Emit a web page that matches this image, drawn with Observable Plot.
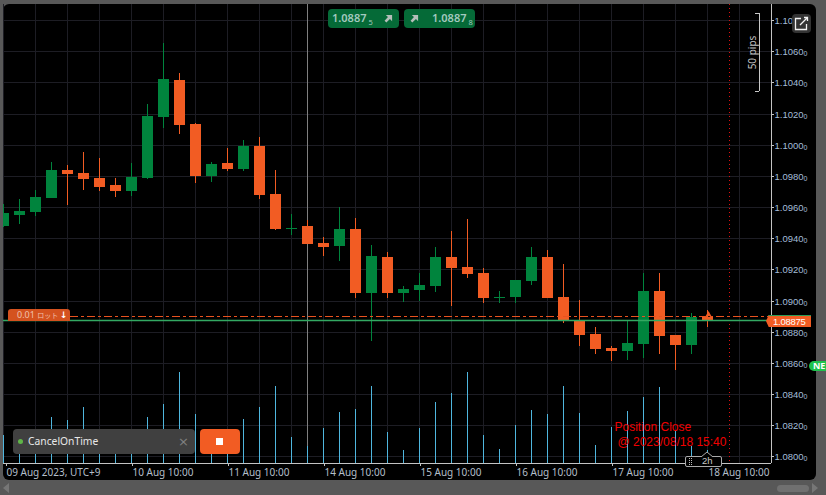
<!DOCTYPE html>
<html><head><meta charset="utf-8">
<script src="https://cdn.jsdelivr.net/npm/d3@7"></script>
<script src="https://cdn.jsdelivr.net/npm/@observablehq/plot@0.6"></script>
<style>
html,body{margin:0;padding:0;width:826px;height:495px;overflow:hidden;background:#585858;font-family:"Noto Sans","Open Sans",sans-serif}
#stage{position:absolute;left:3px;top:4px;width:813px;height:476px;background:#000;border-radius:6px}
#chart{position:absolute;left:0;top:0}
#chart svg{background:transparent;display:block}
.w{position:absolute;box-sizing:border-box;white-space:nowrap}
.quote{top:9px;width:71px;height:19px;background:#056a37;border-radius:4px;color:#a3c9bf;font-size:11px;font-weight:600;line-height:18px}
.quote sub{font-size:7.5px;font-weight:400;vertical-align:-3px;line-height:0;margin-left:2px}
.quote svg{position:absolute;top:5px}
</style></head><body>
<div id="stage"></div><div id="chart"></div>

<div class="w quote" style="left:328px"><span style="position:absolute;left:4px">1.0887<sub>5</sub></span>
<svg width="9" height="9" viewBox="0 0 10 10" style="left:56px"><path d="M2 1H9V8L6.6 5.6 2.6 9.4 .6 7.4 4.4 3.4Z" fill="#b4beb9"/></svg></div>
<div class="w quote" style="left:404px"><svg width="9" height="9" viewBox="0 0 10 10" style="left:6px"><path d="M2 1H9V8L6.6 5.6 2.6 9.4 .6 7.4 4.4 3.4Z" fill="#b4beb9"/></svg>
<span style="position:absolute;left:28px">1.0887<sub>8</sub></span></div>

<div class="w" style="left:792px;top:14px;width:19px;height:19px;background:#333;border-radius:4px">
<svg width="19" height="19" viewBox="0 0 19 19"><path d="M9 4.5H3.5V15.5H14.5V10" fill="none" stroke="#f2f2f2" stroke-width="1.3"/><path d="M8 11L15 4M12 3.5H15.5V7" fill="none" stroke="#f2f2f2" stroke-width="1.3"/></svg></div>

<div class="w" style="left:8px;top:309px;width:62px;height:12px;background:#d4521f;border-radius:3px 3px 0 0;color:#f0c0ac;font:400 9px/12px 'Noto Sans',sans-serif;padding-left:9px;overflow:hidden">0.01 <span style="font:400 7px/12px 'Noto Sans CJK JP',sans-serif">ロット</span><span style="position:absolute;left:52px;top:0;color:#fff;font:700 9px/12px 'DejaVu Sans'">↓</span></div>

<div class="w" style="left:766px;top:315px;width:45px;height:12px;background:#f25c23;border-top:1px solid #2b9c56;clip-path:polygon(6% 0,100% 0,100% 100%,6% 100%,0 50%);color:#fff;font:400 9.5px/11px 'Liberation Sans',sans-serif;letter-spacing:-.25px;padding-left:7px;overflow:hidden">1.08875</div>

<div class="w" style="left:809px;top:361px;width:17px;height:10px;background:#1fc24d;border-radius:5px 0 0 5px;color:#fff;font:700 9px/10px 'Noto Sans',sans-serif;padding-left:4px">NE</div>

<div class="w" style="left:13px;top:429px;width:182px;height:25px;background:#404040;border-radius:4px;color:#e8e8e8;font-size:10.3px;line-height:25px;padding-left:15px">CancelOnTime
<span style="position:absolute;left:5px;top:10px;width:5px;height:5px;border-radius:50%;background:#5fb548"></span>
<span style="position:absolute;left:165px;top:0;color:#808080;font-size:13px;font-family:'DejaVu Sans'">×</span></div>
<div class="w" style="left:200px;top:429px;width:40px;height:25px;background:#f25c23;border-radius:4px"><span style="position:absolute;left:16px;top:9px;width:7px;height:7px;background:#fff"></span></div>

<div class="w" style="left:685px;top:456px;width:37px;height:11px;background:#000;border:1px solid #aaa;border-radius:2px;color:#c8c8c8;font:400 9.5px/8px 'Liberation Sans',sans-serif;padding-left:16px">2h
<svg width="5" height="10" style="position:absolute;left:2px;top:0"><path d="M1 1h1v1H1zM3 1h1v1H3zM1 3h1v1H1zM3 3h1v1H3zM1 5h1v1H1zM3 5h1v1H3zM1 7h1v1H1zM3 7h1v1H3z" fill="#bbb"/></svg></div>
<svg class="w" width="12" height="6" style="left:701px;top:451px"><path d="M0 6L6 1 12 6" fill="#000" stroke="#aaa"/></svg>

<div class="w" style="left:777px;top:485px;width:32px;height:7px;background:#707070;border-radius:4px"></div>
<svg class="w" width="8" height="10" style="left:811px;top:483px"><path d="M1 0L7 5 1 10Z" fill="#767676"/></svg>
<svg class="w" width="8" height="10" style="left:2px;top:483px"><path d="M7 0L1 5 7 10Z" fill="#767676"/></svg>

<script>
const index = d3.range(45);
const open  = [1.09479,1.09549,1.09568,1.09658,1.09838,1.09819,1.09787,1.09742,1.09703,1.09787,1.10178,1.10416,1.10133,1.09800,1.09883,1.09845,1.09993,1.09684,1.09458,1.09479,1.09370,1.09351,1.09460,1.09048,1.09280,1.09048,1.09068,1.09093,1.09280,1.09216,1.09177,1.09014,1.09023,1.09126,1.09280,1.09023,1.08869,1.08786,1.08696,1.08676,1.08721,1.09061,1.08779,1.08715,1.08895];
const close = [1.09562,1.09575,1.09665,1.09838,1.09813,1.09781,1.09729,1.09703,1.09793,1.10185,1.10423,1.10127,1.09800,1.09877,1.09845,1.09993,1.09678,1.09460,1.09464,1.09364,1.09344,1.09460,1.09048,1.09286,1.09048,1.09074,1.09100,1.09280,1.09209,1.09171,1.09016,1.09021,1.09132,1.09280,1.09016,1.08876,1.08779,1.08689,1.08676,1.08728,1.09061,1.08773,1.08715,1.08895,1.08876];
const high  = [1.09620,1.09652,1.09710,1.09890,1.09871,1.09954,1.09916,1.09787,1.09883,1.10262,1.10653,1.10461,1.10140,1.09890,1.09980,1.10030,1.10050,1.09838,1.09555,1.09517,1.09409,1.09601,1.09530,1.09357,1.09312,1.09093,1.09177,1.09344,1.09447,1.09523,1.09209,1.09061,1.09132,1.09344,1.09325,1.09235,1.09003,1.08831,1.08709,1.08869,1.09177,1.09177,1.08779,1.08921,1.08940];
const low   = [1.09473,1.09492,1.09543,1.09658,1.09613,1.09710,1.09703,1.09665,1.09671,1.09781,1.10108,1.10069,1.09755,1.09761,1.09832,1.09832,1.09652,1.09454,1.09421,1.09364,1.09286,1.09254,1.09016,1.08741,1.09016,1.08992,1.08997,1.09055,1.08966,1.09145,1.08985,1.08985,1.08985,1.09100,1.09016,1.08857,1.08709,1.08657,1.08612,1.08619,1.08631,1.08657,1.08554,1.08657,1.08831];
const volume = [28,31,26,46,43,56,33,23,28,46,59,91,49,18,18,44,56,77,26,17,35,51,54,77,31,13,35,61,70,91,28,14,38,53,49,77,50,18,36,52,66,76,33,17,13];

const priceTicks = [1.108,1.106,1.104,1.102,1.100,1.098,1.096,1.094,1.092,1.090,1.088,1.086,1.084,1.082,1.080];
const gridIndex = d3.range(0,48,2);
const dateIndex = [0.15,8,14,20,26,32,38,44];
const dateLabels = ["09 Aug 2023, UTC+9","10 Aug 10:00","11 Aug 10:00","14 Aug 10:00","15 Aug 10:00","16 Aug 10:00","17 Aug 10:00","18 Aug 10:00"];
const bid = 1.08875, orderPrice = 1.08902;
const closeMarker = 45.375, crosshair = 19;
const notes = [{x:38.17,y:1.08188,t:"Position Close"},{x:38.38,y:1.08095,t:"@ 2023/08/18 15:40"}];

const xDom = [0,48], yDom = [1.109033,1.079582];
const pipPerPx = (yDom[0]-yDom[1])/459;
const candles = index.map(i => ({i,o:open[i],c:close[i],h:high[i],l:low[i],v:volume[i]}));
const UP="#00843d", DOWN="#f25c23", GRID="#1d1d24", AXIS="#c4c4c4", YTXT="#a3bcd8";
const colorOf = d => d.c>=d.o?UP:DOWN;

const plot = Plot.plot({
  width:826,height:495,marginLeft:3,marginRight:55,marginTop:4,marginBottom:32,
  style:{background:"transparent"},
  x:{domain:xDom,axis:null,round:true},
  y:{domain:[yDom[1],yDom[0]],axis:null,round:true},
  marks:[
    Plot.gridX(gridIndex,{x:d=>d,stroke:GRID,strokeOpacity:1}),
    Plot.gridY(priceTicks,{y:d=>d,stroke:GRID,strokeOpacity:1}),
    Plot.ruleX([crosshair],{x:d=>d,stroke:"#7f7f7f"}),
    Plot.ruleX(candles,{x:"i",y1:yDom[1],y2:d=>yDom[1]+d.v*pipPerPx,stroke:"#4fb6de"}),
    Plot.ruleX([closeMarker],{x:d=>d,stroke:"#e01010",strokeDasharray:"1,3"}),
    Plot.ruleX(candles,{x:"i",y1:"l",y2:"h",stroke:colorOf,clip:"frame"}),
    Plot.ruleX(candles,{x:"i",y1:"o",y2:"c",stroke:colorOf,strokeWidth:11,clip:"frame"}),
    Plot.dot([44],{x:d=>d,y:[1.08914],symbol:"triangle",r:2.2,dx:1,fill:DOWN}),
    Plot.ruleY([orderPrice],{x1:4.2,x2:xDom[1],stroke:"#e8531f",strokeDasharray:"8,3,3,3"}),
    Plot.ruleY([bid],{stroke:"#33a862",strokeWidth:1.3}),
    Plot.ruleY([yDom[1]],{stroke:AXIS}),
    Plot.ruleX([xDom[1]],{x:d=>d,stroke:AXIS}),
    Plot.axisX(dateIndex,{anchor:"bottom",tickSize:3,tickPadding:2,textAnchor:"start",dx:1,
      tickFormat:d=>dateLabels[dateIndex.indexOf(d)],fontSize:10,fill:"#b4bfca",stroke:AXIS}),
    Plot.axisY(priceTicks,{anchor:"right",tickSize:2,tickPadding:1,tickFormat:d=>d.toFixed(4),fontSize:9.5,fontFamily:"'Liberation Sans',sans-serif",letterSpacing:"-0.3px",fill:YTXT,stroke:AXIS}),
    Plot.text(priceTicks,{x:()=>xDom[1],y:d=>d,text:()=>"0",dx:32,dy:2.5,textAnchor:"start",fontSize:7,fontFamily:"'Liberation Sans',sans-serif",fill:YTXT}),
    Plot.ruleX([47.25],{x:d=>d,y1:1.10595+0.0025,y2:1.10595-0.0025,stroke:"#c8c8c8"}),
    Plot.ruleY([1.10845,1.10345],{y:d=>d,x1:47,x2:47.25,stroke:"#c8c8c8"}),
    Plot.text(["50 pips"],{x:()=>46.8,y:()=>1.10595,rotate:-90,fontSize:10,fill:"#c0c0c0",fontFamily:"'Noto Sans',sans-serif",letterSpacing:"0.8px"}),
    Plot.text(notes,{x:"x",y:"y",text:"t",textAnchor:"start",fill:"#f00000",fontSize:12,fontFamily:"'Liberation Sans',Arial,sans-serif"})
  ]
});
document.getElementById("chart").appendChild(plot);
</script>
</body></html>
